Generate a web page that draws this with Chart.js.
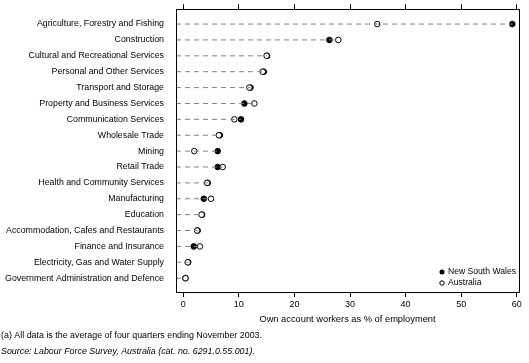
<!DOCTYPE html>
<html>
<head>
<meta charset="utf-8">
<script src="https://cdn.jsdelivr.net/npm/chart.js@4/dist/chart.umd.min.js"></script>
<style>
  body { margin: 0; background: #fff; }
  #wrap { width: 529px; height: 363px; }
</style>
</head>
<body>
<div id="wrap"><canvas id="myChart" width="529" height="363"></canvas></div>
<script>
var categories = [
    'Agriculture, Forestry and Fishing',
    'Construction',
    'Cultural and Recreational Services',
    'Personal and Other Services',
    'Transport and Storage',
    'Property and Business Services',
    'Communication Services',
    'Wholesale Trade',
    'Mining',
    'Retail Trade',
    'Health and Community Services',
    'Manufacturing',
    'Education',
    'Accommodation, Cafes and Restaurants',
    'Finance and Insurance',
    'Electricity, Gas and Water Supply',
    'Government Administration and Defence'
];
var nswValues = [59.2, 26.3, 15.1, 14.5, 12.1, 11.0, 10.4, 6.6, 6.2, 6.2, 4.4, 3.7, 3.4, 2.6, 1.9, 0.9, 0.4];
var ausValues = [34.9, 27.9, 15.0, 14.3, 11.9, 12.8, 9.2, 6.4, 2.0, 7.1, 4.3, 5.0, 3.3, 2.5, 3.0, 0.8, 0.4];
var xTicks = [0, 10, 20, 30, 40, 50, 60];

var X_MIN = -1.3, X_MAX = 60.4;
var FONT = 'Liberation Sans, Arial, sans-serif';

// dashed guide lines, one per industry, from the axis to the larger value
var datasets = [];
categories.forEach(function(c, i) {
    datasets.push({
        label: 'guide',
        data: [{x: X_MIN, y: i}, {x: Math.max(nswValues[i], ausValues[i]), y: i}],
        showLine: true,
        borderColor: '#808080',
        borderWidth: 1,
        borderDash: [5, 4],
        pointRadius: 0
    });
});
datasets.push({
    label: 'Australia',
    data: ausValues.map(function(v, i) { return {x: v, y: i}; }),
    pointRadius: 2.8,
    pointBorderWidth: 1,
    pointBackgroundColor: '#fff',
    pointBorderColor: '#000'
});
datasets.push({
    label: 'New South Wales',
    data: nswValues.map(function(v, i) { return {x: v, y: i}; }),
    pointRadius: 2.8,
    pointBorderWidth: 1,
    pointBackgroundColor: '#000',
    pointBorderColor: '#000'
});

var extras = {
    id: 'extras',
    afterDraw: function(chart) {
        var ctx = chart.ctx;
        var a = chart.chartArea;
        ctx.save();
        ctx.strokeStyle = '#000';
        ctx.lineWidth = 1;
        ctx.strokeRect(Math.round(a.left) + 0.5, Math.round(a.top) + 0.5,
            Math.round(a.right - a.left), Math.round(a.bottom - a.top));

        // legend
        ctx.font = '8.6px ' + FONT;
        ctx.textBaseline = 'middle';
        ctx.fillStyle = '#000';
        var lx = a.right - 77, ly = a.bottom - 20;
        ctx.beginPath(); ctx.arc(lx, ly, 2.5, 0, Math.PI * 2); ctx.fill();
        ctx.fillText('New South Wales', lx + 6, ly);
        ctx.beginPath(); ctx.arc(lx, ly + 11, 2.2, 0, Math.PI * 2);
        ctx.fillStyle = '#fff'; ctx.fill(); ctx.stroke();
        ctx.fillStyle = '#000';
        ctx.fillText('Australia', lx + 6, ly + 11);

        // footnotes
        ctx.textBaseline = 'alphabetic';
        ctx.font = '8.9px ' + FONT;
        ctx.fillText('(a) All data is the average of four quarters ending November 2003.', 1, 338);
        ctx.font = 'italic 8.9px ' + FONT;
        ctx.fillText('Source: Labour Force Survey, Australia (cat. no. 6291.0.55.001).', 1, 354);
        ctx.restore();
    }
};

var ctx = document.getElementById('myChart');
var myChart = new Chart(ctx, {
    type: 'scatter',
    data: {datasets: datasets},
    plugins: [extras],
    options: {
        responsive: false,
        animation: false,
        devicePixelRatio: 1,
        layout: {padding: {top: 0, right: 10, bottom: 38, left: 0}},
        plugins: {legend: {display: false}, tooltip: {enabled: false}},
        scales: {
            x: {
                type: 'linear',
                min: X_MIN,
                max: X_MAX,
                afterBuildTicks: function(s) { s.ticks = xTicks.map(function(v) { return {value: v}; }); },
                ticks: {color: '#000', font: {family: FONT, size: 9}, padding: 2},
                grid: {drawOnChartArea: false, tickLength: 5, color: '#000'},
                border: {display: false},
                title: {display: true, text: 'Own account workers as % of employment',
                    color: '#000', font: {family: FONT, size: 9.3}, padding: {top: 4, bottom: 0}},
                afterFit: function(s) { s.height = 33; }
            },
            x2: {
                type: 'linear',
                position: 'top',
                min: X_MIN,
                max: X_MAX,
                afterBuildTicks: function(s) { s.ticks = xTicks.map(function(v) { return {value: v}; }); },
                ticks: {display: false},
                grid: {drawOnChartArea: false, tickLength: 5, color: '#000'},
                border: {display: false},
                afterFit: function(s) { s.height = 5; }
            },
            y: {
                type: 'linear',
                reverse: true,
                min: -0.93,
                max: 16.87,
                afterBuildTicks: function(s) { s.ticks = categories.map(function(c, i) { return {value: i}; }); },
                ticks: {
                    color: '#000',
                    font: {family: FONT, size: 8.8},
                    padding: 4,
                    callback: function(v) { return categories[v]; }
                },
                grid: {display: false},
                border: {display: false},
                afterFit: function(s) { s.width = 176; }
            }
        }
    }
});
</script>
</body>
</html>
